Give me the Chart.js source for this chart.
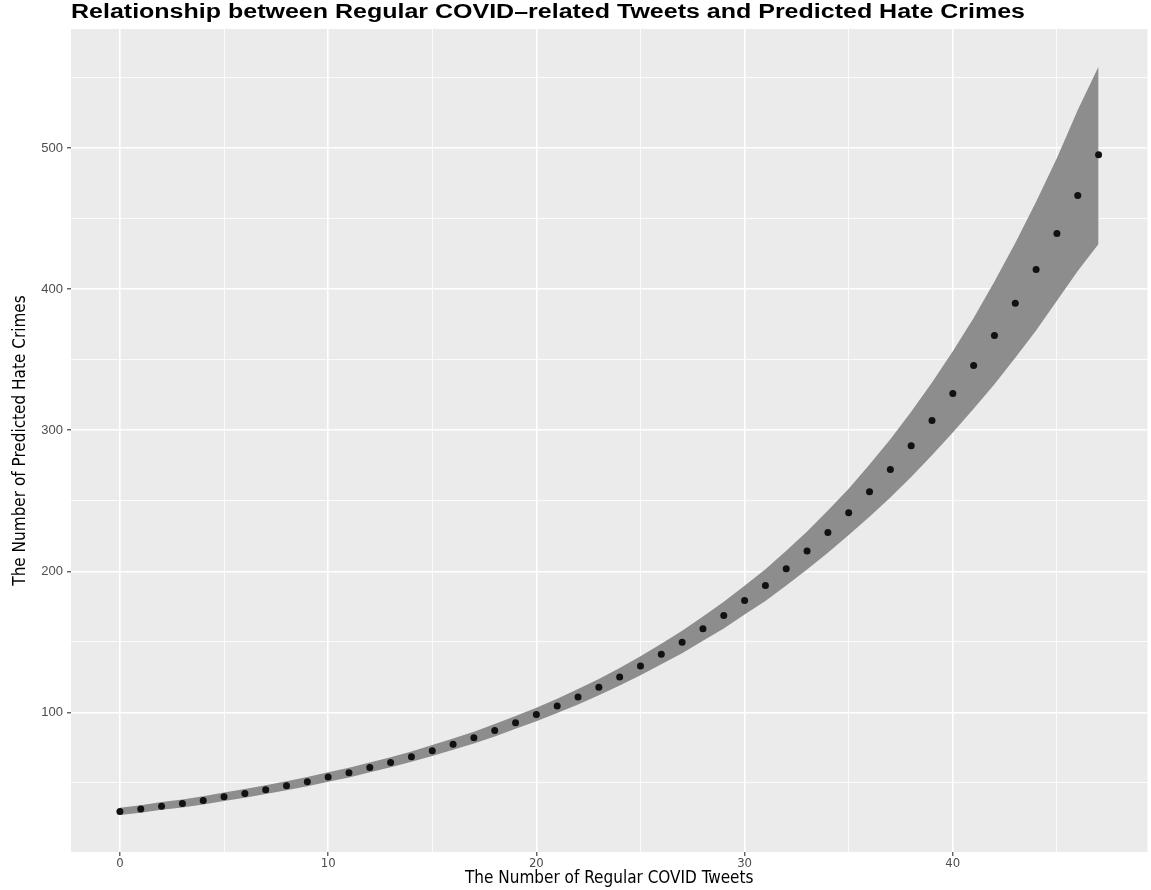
<!DOCTYPE html>
<html>
<head>
<meta charset="utf-8">
<script src="https://cdn.jsdelivr.net/npm/chart.js@4.4.1/dist/chart.umd.min.js"></script>
<style>
html,body{margin:0;padding:0;background:#fff;}
</style>
</head>
<body>
<canvas id="myChart" width="1151" height="890"></canvas>
<script>
// x values: number of regular COVID tweets
const tweets=[0,1,2,3,4,5,6,7,8,9,10,11,12,13,14,15,16,17,18,19,20,21,22,23,
	24,25,26,27,28,29,30,31,32,33,34,35,36,37,38,39,40,41,42,43,44,45,46,47];
// predicted hate crimes (points)
const predicted=[29.7,31.4,33.5,35.3,37.5,40.1,42.5,45.1,47.9,50.8,54.1,57.2,60.9,64.5,68.5,72.8,
	77.4,82.0,87.2,92.7,98.4,104.5,110.9,117.8,125.1,132.9,141.2,149.7,159.2,168.7,179.3,189.9,
	201.8,214.4,227.6,241.6,256.5,272.2,289.0,307.0,326.0,345.9,367.2,390.0,413.9,439.5,466.5,495.3];
// ribbon bounds
const upperCI=[32.4,34.2,36.4,38.2,40.5,43.2,45.7,48.3,51.2,54.2,57.6,60.7,64.5,68.2,72.3,76.8,
	81.5,86.3,91.7,97.4,103.3,109.7,116.5,123.7,131.5,139.7,148.6,157.8,168.0,178.4,189.8,201.4,
	214.5,228.3,243.1,258.6,275.7,293.7,313.1,333.9,356.0,379.6,405.4,432.7,462.0,493.1,527.0,558.0];
const lowerCI=[27.2,28.8,30.9,32.6,34.7,37.2,39.5,42.1,44.8,47.6,50.8,53.9,57.5,61.0,64.9,69.0,
	73.5,77.9,82.9,88.3,93.7,99.5,105.6,112.2,119.0,126.4,134.2,142.0,150.8,159.5,169.4,179.0,
	189.9,201.3,213.1,225.7,238.7,252.3,266.8,282.3,298.5,315.2,332.6,351.5,370.8,391.8,412.9,432.0];
const xTicks=[0,10,20,30,40];
const yTicks=[100,200,300,400,500];

const narrow="'Liberation Sans Narrow','DejaVu Sans Condensed','Arial Narrow',sans-serif";
const xy=(ys)=>tweets.map((t,i)=>({x:t,y:ys[i]}));

const panelBg={
	id:'panelBg',
	beforeDraw(chart){
		const a=chart.chartArea, c=chart.ctx;
		c.save();
		c.fillStyle='#ebebeb';
		c.fillRect(a.left,a.top,a.right-a.left,a.bottom-a.top);
		c.restore();
	}
};
// plot title, stretched to the width it has in the original
const topTitle={
	id:'topTitle',
	afterDraw(chart){
		const c=chart.ctx;
		const txt='Relationship between Regular COVID\u2013related Tweets and Predicted Hate Crimes';
		c.save();
		c.fillStyle='#000';
		c.font="bold 20px 'Liberation Sans',Arial,sans-serif";
		c.textBaseline='alphabetic';
		c.textAlign='left';
		const w=c.measureText(txt).width;
		c.translate(71,17.5);
		c.scale(954/w,1);
		c.fillText(txt,0,0);
		c.restore();
	}
};

const ctx=document.getElementById('myChart');
new Chart(ctx,{
	type:'line',
	data:{
		datasets:[
			{
				label:'predicted',
				data:xy(predicted),
				showLine:false,
				pointRadius:3.5,
				pointHoverRadius:3.5,
				pointBackgroundColor:'#111',
				pointBorderWidth:0
			},
			{
				label:'lower',
				data:xy(lowerCI),
				pointRadius:0,
				borderWidth:0,
				borderColor:'rgba(0,0,0,0)',
				fill:false
			},
			{
				label:'upper',
				data:xy(upperCI),
				pointRadius:0,
				borderWidth:0,
				borderColor:'rgba(0,0,0,0)',
				backgroundColor:'#8d8d8d',
				fill:'-1'
			}
		]
	},
	options:{
		responsive:false,
		animation:false,
		layout:{padding:{top:29,right:3,left:0,bottom:0}},
		plugins:{
			legend:{display:false},
			tooltip:{enabled:false},
			title:{display:false}
		},
		scales:{
			x:{
				type:'linear',
				min:-2.35,
				max:49.35,
				border:{display:false},
				ticks:{
					stepSize:5,
					includeBounds:false,
					autoSkip:false,
					maxRotation:0,
					padding:0,
					color:'#4d4d4d',
					font:{family:narrow,size:13},
					callback:v=>xTicks.includes(v)?String(v):''
				},
				grid:{
					color:'#fff',
					lineWidth:c=>xTicks.includes(c.tick.value)?1.6:0.8,
					tickLength:4,
					tickWidth:1.1,
					tickColor:c=>xTicks.includes(c.tick.value)?'#333':'rgba(0,0,0,0)'
				},
				title:{
					display:true,
					text:'The Number of Regular COVID Tweets',
					color:'#000',
					font:{family:narrow,size:17},
					padding:{top:0,bottom:1}
				},
				afterFit:s=>{s.height=38;}
			},
			y:{
				type:'linear',
				min:1,
				max:584.5,
				border:{display:false},
				ticks:{
					stepSize:50,
					includeBounds:false,
					autoSkip:false,
					padding:4,
					color:'#4d4d4d',
					font:{family:"'Liberation Sans',Arial,sans-serif",size:13},
					callback:v=>yTicks.includes(v)?String(v):''
				},
				grid:{
					color:'#fff',
					lineWidth:c=>yTicks.includes(c.tick.value)?1.6:0.8,
					tickLength:4,
					tickWidth:1.1,
					tickColor:c=>yTicks.includes(c.tick.value)?'#333':'rgba(0,0,0,0)'
				},
				title:{
					display:true,
					text:'The Number of Predicted Hate Crimes',
					color:'#000',
					font:{family:narrow,size:17},
					padding:{top:10,bottom:0}
				},
				afterFit:s=>{s.width=71;}
			}
		}
	},
	plugins:[panelBg,topTitle]
});
</script>
</body>
</html>
